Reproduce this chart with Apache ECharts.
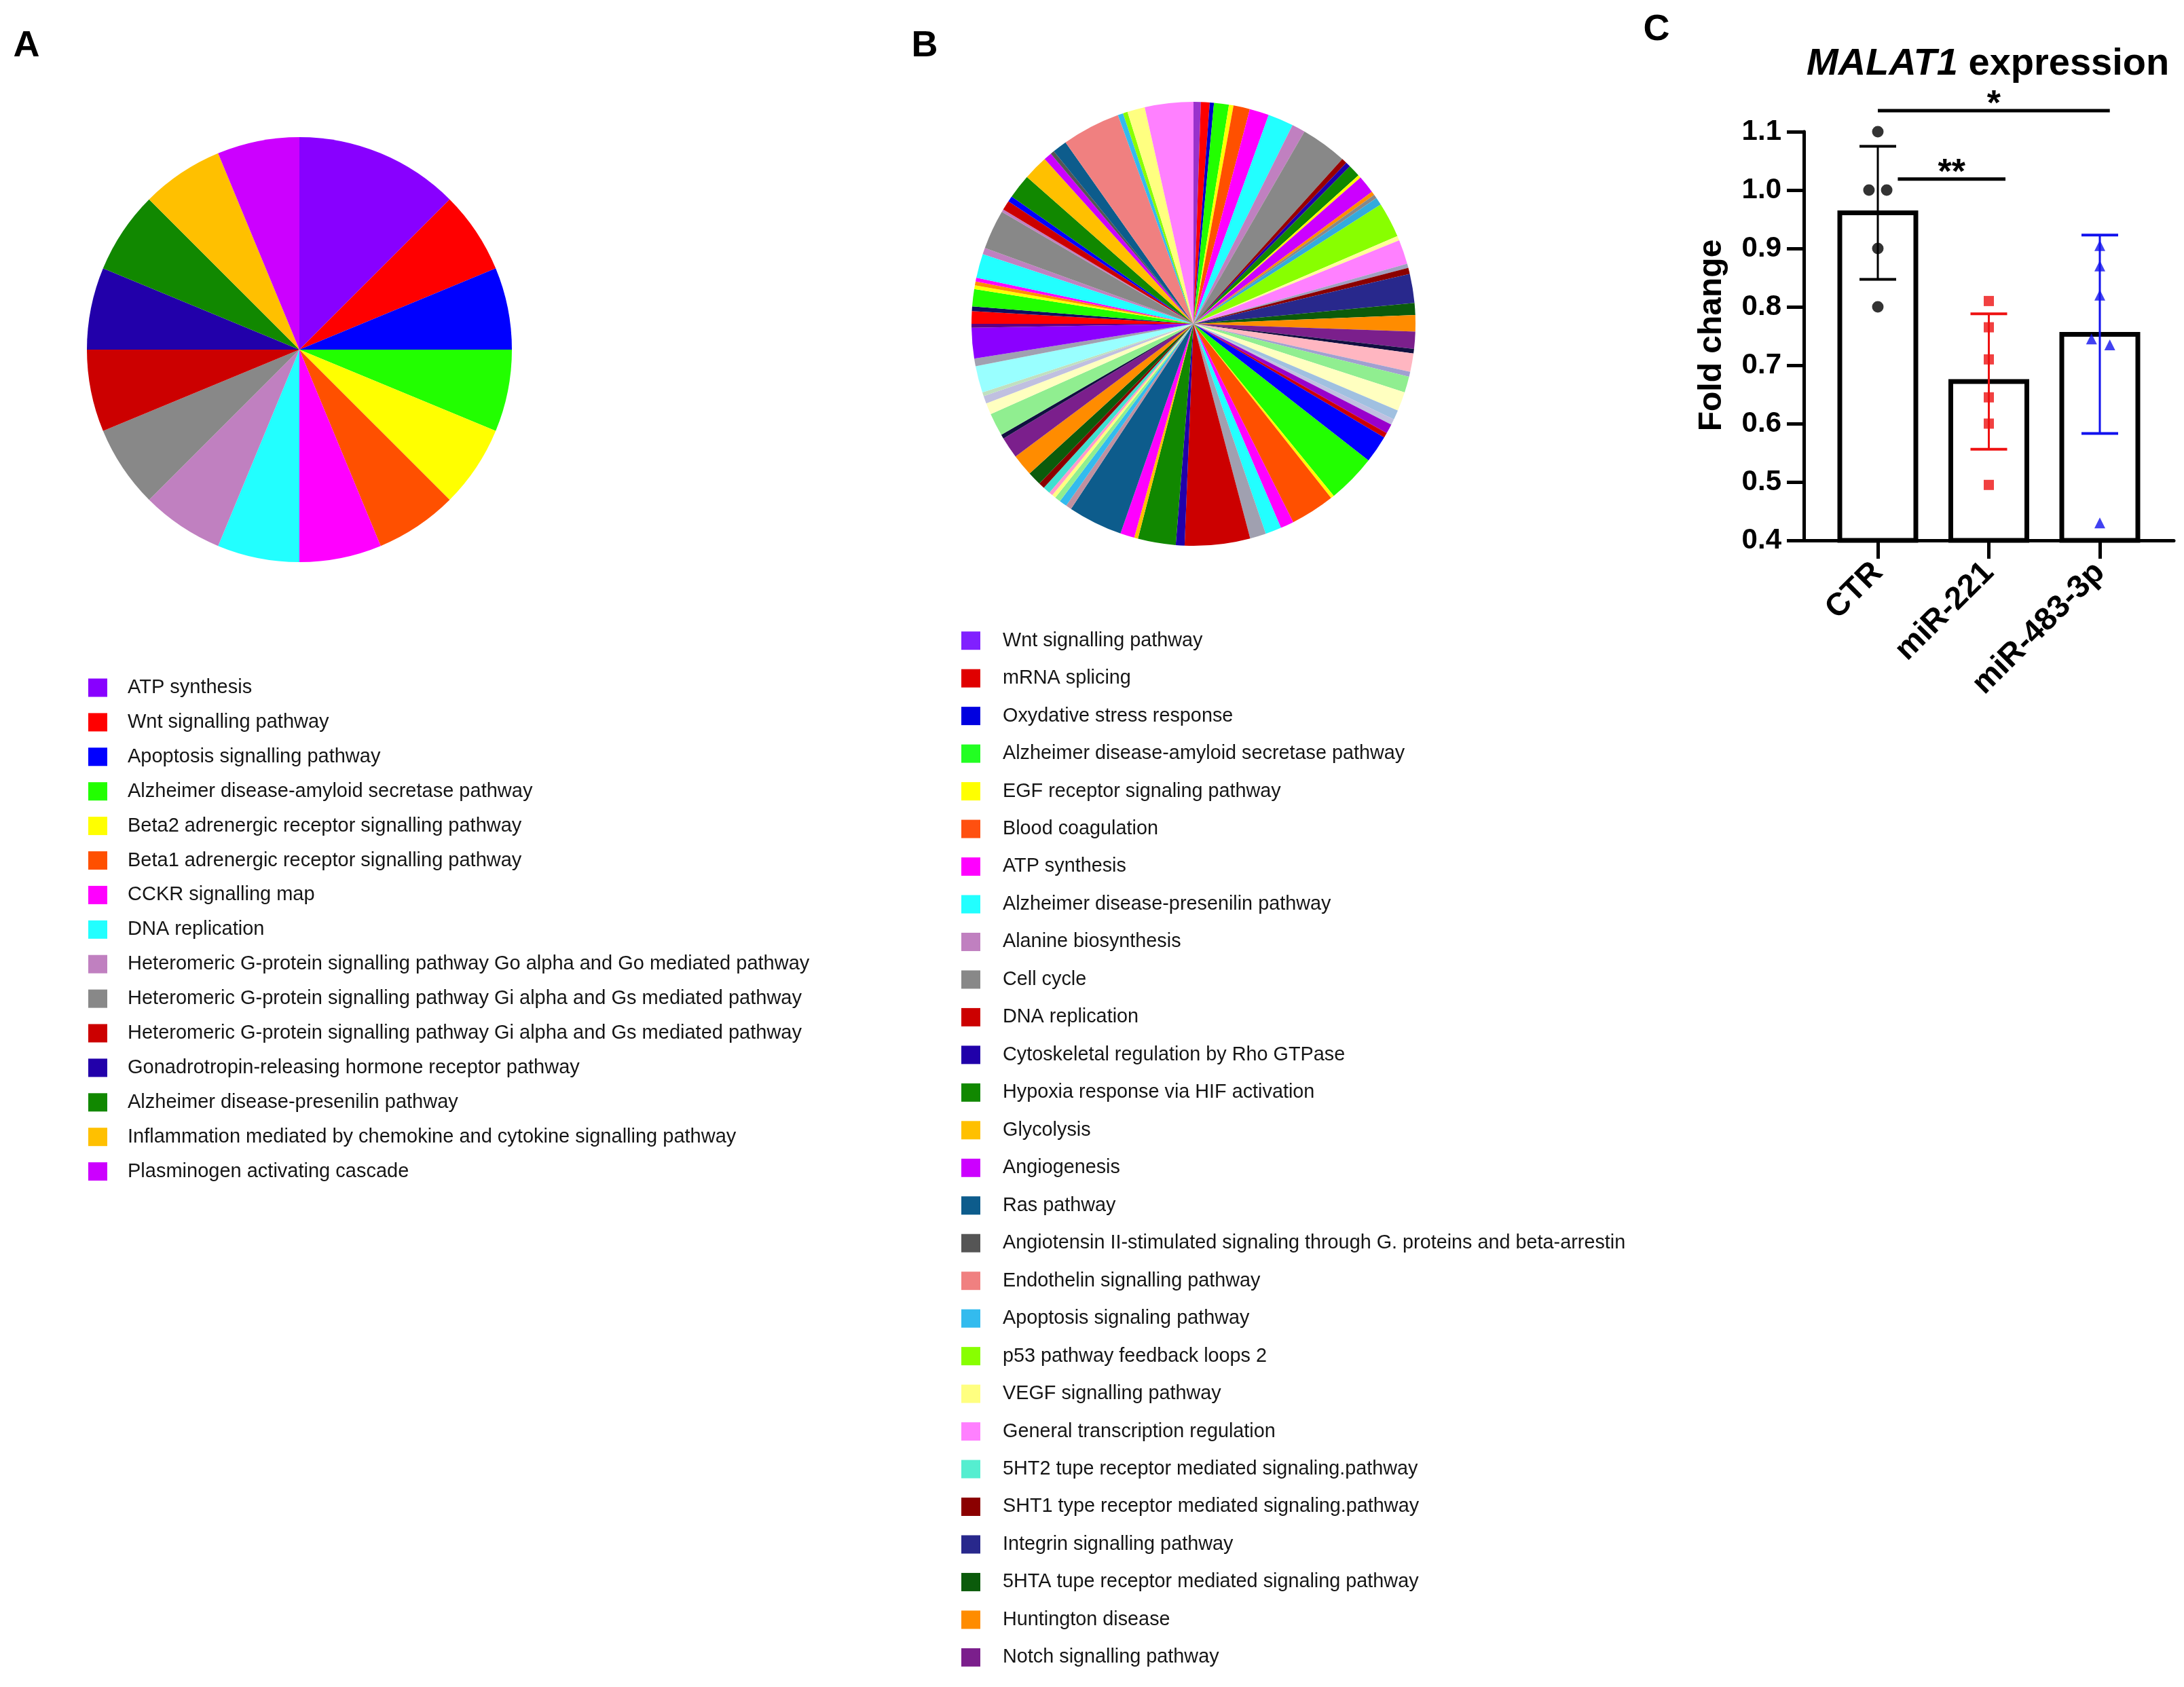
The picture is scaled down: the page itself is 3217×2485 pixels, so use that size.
<!DOCTYPE html>
<html><head><meta charset="utf-8">
<script src="https://cdn.jsdelivr.net/npm/echarts@6/dist/echarts.min.js"></script>
<style>html,body{margin:0;padding:0;background:#fff}#c{width:3217px;height:2485px}</style>
</head><body><div id="c"></div>
<script>
// ---------- Panel A data ----------
const pathwaysA = [
  'ATP synthesis',
  'Wnt signalling pathway',
  'Apoptosis signalling pathway',
  'Alzheimer disease-amyloid secretase pathway',
  'Beta2 adrenergic receptor signalling pathway',
  'Beta1 adrenergic receptor signalling pathway',
  'CCKR signalling map',
  'DNA replication',
  'Heteromeric G-protein signalling pathway Go alpha and Go mediated pathway',
  'Heteromeric G-protein signalling pathway Gi alpha and Gs mediated pathway',
  'Heteromeric G-protein signalling pathway Gi alpha and Gs mediated pathway',
  'Gonadrotropin-releasing hormone receptor pathway',
  'Alzheimer disease-presenilin pathway',
  'Inflammation mediated by chemokine and cytokine signalling pathway',
  'Plasminogen activating cascade'
];
const countsA = [2,1,1,1,1,1,1,1,1,1,1,1,1,1,1];
const colorsA = ['#8800FF','#FF0000','#0000FF','#22FF00','#FFFF00','#FF5000','#FF00FF','#22FFFF',
  '#C080C0','#888888','#CC0000','#2200AA','#118800','#FFC000','#CC00FF'];

// ---------- Panel B data ----------
const pathwaysB = [
  'Wnt signalling pathway','mRNA splicing','Oxydative stress response','Alzheimer disease-amyloid secretase pathway',
  'EGF receptor signaling pathway','Blood coagulation','ATP synthesis','Alzheimer disease-presenilin pathway',
  'Alanine biosynthesis','Cell cycle','DNA replication','Cytoskeletal regulation by Rho GTPase',
  'Hypoxia response via HIF activation','Glycolysis','Angiogenesis','Ras pathway',
  'Angiotensin II-stimulated signaling through G. proteins and beta-arrestin','Endothelin signalling pathway',
  'Apoptosis signaling pathway','p53 pathway feedback loops 2','VEGF signalling pathway','General transcription regulation',
  '5HT2 tupe receptor mediated signaling.pathway','SHT1 type receptor mediated signaling.pathway','Integrin signalling pathway',
  '5HTA tupe receptor mediated signaling pathway','Huntington disease','Notch signalling pathway'
];
const legendColorsB = ['#8020FF','#E00000','#0000E0','#22FF22','#FFFF00','#FF5010','#FF00FF','#22FFFF',
  '#C080C0','#888888','#CC0000','#2000AA','#118800','#FFC000','#CC00FF','#0D5C8C','#555555','#F08080',
  '#33BBEE','#88FF00','#FFFF80','#FF80FF','#55EED0','#8B0000','#28288C','#0B5B0B','#FF8C00','#7B1F8C'];
// slice sizes (degrees read clockwise from 12 o'clock)
const sliceValuesB = [1.9,2.3,1.1,3.9,1.2,4.3,5.1,6.7,3.5,12.1,1.4,1.3,3.2,0.8,4.7,1.0,1.0,2.0,9.2,1.2,
  6.4,1.1,1.6,7.6,3.1,4.3,4.5,1.2,4.8,1.3,4.2,5.0,2.5,1.5,2.5,1.3,7.2,12.8,0.9,11.6,
  3.5,4.2,4.2,17.1,2.3,9.9,1.0,3.7,14.3,1.5,2.0,1.5,1.0,1.0,1.9,1.6,3.6,5.7,5.6,1.1,
  6.0,3.0,2.0,1.0,7.0,2.0,8.0,1.0,3.3,1.2,4.5,1.0,1.0,1.0,6.3,1.7,10.3,0.7,2.5,1.5,
  6.4,6.5,2.1,1.0,3.8,15.3,1.4,1.2,4.6,12.7];
const sliceColorsB = ['#9932CC','#FF0000','#0000CC','#22FF00','#FFFF00','#FF5000','#FF00FF','#22FFFF','#C080C0','#888888',
  '#990000','#2000AA','#118800','#FFFF00','#CC00FF','#FF8C00','#888888','#33AADD','#88FF00','#FFFF99',
  '#FF80FF','#A0A0C0','#8B0000','#28288C','#0B5B0B','#FF8C00','#7B1F8C','#101040','#FFB6C1','#A0A0D0',
  '#90EE90','#FFFFC0','#A0C0E0','#C0C0E0','#9900CC','#CC0000','#0000FF','#22FF00','#FFFF00','#FF5000',
  '#FF00FF','#22FFFF','#A0A0B0','#CC0000','#2000AA','#118800','#FFC000','#FF00FF','#0D5C8C','#C090A0',
  '#33BBEE','#90EE90','#FFFF80','#FF99CC','#40E0D0','#8B0000','#0B5B0B','#FF8C00','#7B1F8C','#101040',
  '#90EE90','#FFFFC0','#C0C0E0','#C0E0C0','#99FFFF','#A0A0B0','#8B00FF','#600080','#FF0000','#101060',
  '#22FF00','#FFFF00','#FF8C00','#FF00FF','#22FFFF','#C080C0','#888888','#C080C0','#CC0000','#0000FF',
  '#118800','#FFC000','#CC00FF','#555555','#0D5C8C','#F08080','#33BBEE','#88FF00','#FFFF80','#FF80FF'];

// ---------- Panel C data ----------
const groups = ['CTR','miR-221','miR-483-3p'];
const meanFC = [0.961, 0.672, 0.753];
const sdFC = [0.114, 0.116, 0.170];
const ctrPoints = [1.10, 1.00, 1.00, 0.90, 0.80];
const mir221Points = [0.81, 0.765, 0.71, 0.645, 0.60, 0.495];
const mir483Points = [0.905, 0.87, 0.82, 0.745, 0.735, 0.43];
const yTickValues = [0.4, 0.5, 0.6, 0.7, 0.8, 0.9, 1.0, 1.1];
const sigLabels = ['*', '**'];
const sigFrom = [0, 0.18];
const sigTo = [2.09, 1.15];
const sigLevel = [1.136, 1.019];

// ---------- styling / layout (not data) ----------
const FONT = 'Liberation Sans, Arial, Helvetica, sans-serif';
const jitterCTR = [0, -0.08, 0.08, 0, 0];
const jitter483 = [0, 0, 0, -0.075, 0.09, 0];
const groupColors = ['#000000', '#EE1111', '#1111EE'];

const chart = echarts.init(document.getElementById('c'), null, {renderer: 'canvas'});

const graphics = [];
function panelLabel(t, x, y) {
  graphics.push({type: 'text', x: x, y: y, style: {text: t, font: 'bold 54px ' + FONT, fill: '#000', align: 'center', verticalAlign: 'middle'}});
}
panelLabel('A', 39, 68);
panelLabel('B', 1362, 68);
panelLabel('C', 2440, 44);

function legend(names, colors, sqX, txtX, y0, dy, fs) {
  names.forEach((n, i) => {
    const yc = y0 + i * dy;
    graphics.push({type: 'rect', shape: {x: sqX - 14, y: yc - 13.5, width: 28, height: 27}, style: {fill: colors[i]}});
    graphics.push({type: 'text', x: txtX, y: yc, style: {text: n, font: fs + 'px ' + FONT, fill: '#151515', align: 'left', verticalAlign: 'middle'}});
  });
}
legend(pathwaysA, colorsA, 144, 188, 1013, 50.9, 29);
legend(pathwaysB, legendColorsB, 1430, 1477, 943.7, 55.47, 28.8);

// Title C
graphics.push({type: 'text', x: 2661, y: 95, style: {
  text: '{i|MALAT1}{n| expression}', align: 'left', verticalAlign: 'middle',
  rich: {i: {font: 'italic bold 56px ' + FONT, fill: '#000'}, n: {font: 'bold 56px ' + FONT, fill: '#000'}}
}});
// y axis title
graphics.push({type: 'text', x: 2522, y: 494, rotation: Math.PI / 2, style: {
  text: 'Fold change', font: 'bold 48px ' + FONT, fill: '#000', align: 'center', verticalAlign: 'middle'}});

const option = {
  animation: false,
  backgroundColor: '#ffffff',
  grid: {left: 2657, top: 194, width: 545, height: 602, containLabel: false, outerBoundsMode: 'none'},
  xAxis: {
    type: 'value', min: -0.6667, max: 2.6667,
    axisLine: {show: true, onZero: false, lineStyle: {color: '#000', width: 5}},
    axisTick: {show: true, customValues: [0, 1, 2], length: 27, lineStyle: {color: '#000', width: 5}},
    axisLabel: {show: true, customValues: [0, 1, 2], rotate: 45, margin: 40,
      formatter: v => groups[Math.round(v)], color: '#000', fontFamily: FONT, fontWeight: 'bold', fontSize: 47},
    splitLine: {show: false}
  },
  yAxis: {
    type: 'value', min: 0.4, max: 1.1, interval: 0.1,
    axisLine: {show: true, onZero: false, lineStyle: {color: '#000', width: 5}},
    axisTick: {show: true, length: 25, lineStyle: {color: '#000', width: 5}},
    axisLabel: {show: true, margin: 33, formatter: v => Number(v).toFixed(1), color: '#000', fontFamily: FONT, fontWeight: 'bold', fontSize: 42},
    splitLine: {show: false}
  },
  graphic: graphics,
  series: [
    {
      type: 'pie', center: [441, 515], radius: 313, startAngle: 90, clockwise: true, silent: true,
      label: {show: false}, labelLine: {show: false}, itemStyle: {borderWidth: 0},
      emphasis: {disabled: true},
      data: pathwaysA.map((n, i) => ({name: n, value: countsA[i], itemStyle: {color: colorsA[i]}}))
    },
    {
      type: 'pie', center: [1758, 477], radius: 327, startAngle: 90, clockwise: true, silent: true,
      label: {show: false}, labelLine: {show: false}, itemStyle: {borderWidth: 0},
      emphasis: {disabled: true},
      data: sliceValuesB.map((v, i) => ({name: 'slice' + i, value: v, itemStyle: {color: sliceColorsB[i]}}))
    },
    {
      type: 'custom', coordinateSystem: 'cartesian2d', silent: true, z: 2,
      data: meanFC.map((m, i) => [i, m]),
      renderItem: (params, api) => {
        const i = api.value(0), m = api.value(1);
        const top = api.coord([i, m]);
        const base = api.coord([i, 0.4]);
        return {type: 'rect', shape: {x: top[0] - 56, y: top[1], width: 112, height: base[1] - top[1]},
          style: {fill: '#fff', stroke: '#000', lineWidth: 7}};
      }
    },
    {
      type: 'custom', coordinateSystem: 'cartesian2d', silent: true, z: 3,
      data: meanFC.map((m, i) => [i, m, sdFC[i]]),
      renderItem: (params, api) => {
        const i = api.value(0), m = api.value(1), s = api.value(2);
        const hi = api.coord([i, m + s]), lo = api.coord([i, m - s]);
        const c = groupColors[i], hw = 27;
        return {type: 'group', children: [
          {type: 'line', shape: {x1: hi[0], y1: hi[1], x2: lo[0], y2: lo[1]}, style: {stroke: c, lineWidth: 3}},
          {type: 'line', shape: {x1: hi[0] - hw, y1: hi[1], x2: hi[0] + hw, y2: hi[1]}, style: {stroke: c, lineWidth: 4}},
          {type: 'line', shape: {x1: lo[0] - hw, y1: lo[1], x2: lo[0] + hw, y2: lo[1]}, style: {stroke: c, lineWidth: 4}}
        ]};
      }
    },
    {
      type: 'scatter', silent: true, z: 4, symbol: 'circle', symbolSize: 17,
      itemStyle: {color: groupColors[0]},
      data: ctrPoints.map((v, k) => [0 + jitterCTR[k], v])
    },
    {
      type: 'scatter', silent: true, z: 4, symbol: 'rect', symbolSize: 15,
      itemStyle: {color: groupColors[1]},
      data: mir221Points.map(v => [1, v])
    },
    {
      type: 'scatter', silent: true, z: 4, symbol: 'triangle', symbolSize: 16,
      itemStyle: {color: groupColors[2]},
      data: mir483Points.map((v, k) => [2 + jitter483[k], v])
    },
    {
      type: 'custom', coordinateSystem: 'cartesian2d', silent: true, z: 5, clip: false,
      data: sigLabels.map((t, k) => [sigFrom[k], sigTo[k], sigLevel[k], k]),
      renderItem: (params, api) => {
        const a = api.coord([api.value(0), api.value(2)]);
        const b = api.coord([api.value(1), api.value(2)]);
        const t = sigLabels[api.value(3)];
        return {type: 'group', children: [
          {type: 'line', shape: {x1: a[0], y1: a[1], x2: b[0], y2: b[1]}, style: {stroke: '#000', lineWidth: 5}},
          {type: 'text', x: (a[0] + b[0]) / 2, y: a[1] - 8, style: {text: t, font: 'bold 52px ' + FONT, fill: '#000', align: 'center', verticalAlign: 'middle'}}
        ]};
      }
    }
  ]
};
chart.setOption(option);
</script>
</body></html>
